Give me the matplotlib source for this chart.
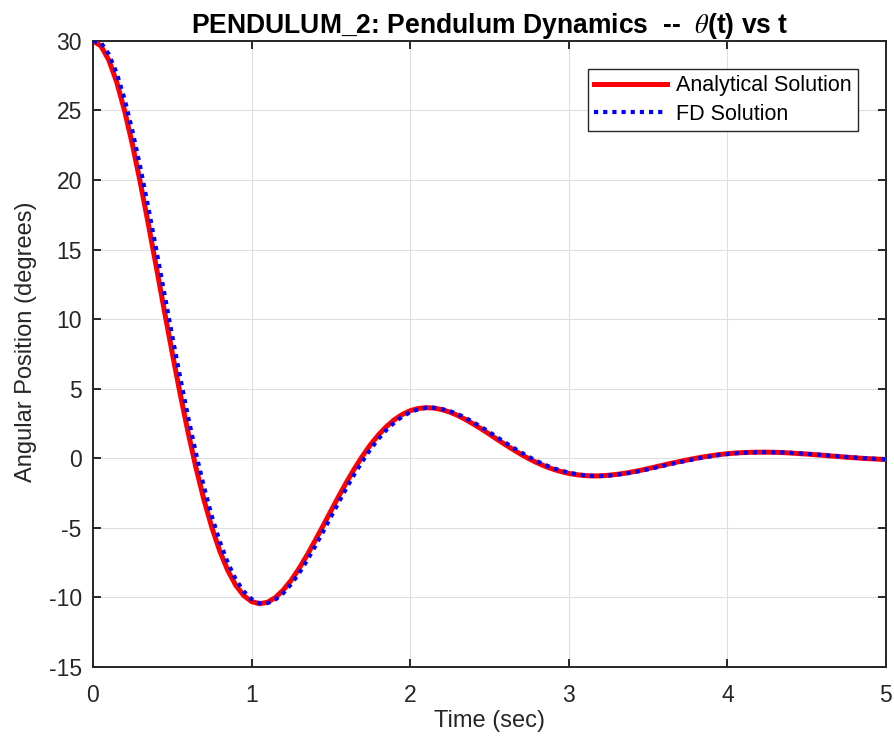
import matplotlib
matplotlib.use("Agg")
import matplotlib.pyplot as plt

plt.rcParams['font.family'] = ['Liberation Sans', 'DejaVu Sans']
plt.rcParams['mathtext.fontset'] = 'stix'
plt.rcParams['axes.unicode_minus'] = False

# time grid (sec) and angles (degrees)
t = [0.00, 0.05, 0.10, 0.15, 0.20, 0.25, 0.30, 0.35, 0.40, 0.45,
     0.50, 0.55, 0.60, 0.65, 0.70, 0.75, 0.80, 0.85, 0.90, 0.95,
     1.00, 1.05, 1.10, 1.15, 1.20, 1.25, 1.30, 1.35, 1.40, 1.45,
     1.50, 1.55, 1.60, 1.65, 1.70, 1.75, 1.80, 1.85, 1.90, 1.95,
     2.00, 2.05, 2.10, 2.15, 2.20, 2.25, 2.30, 2.35, 2.40, 2.45,
     2.50, 2.55, 2.60, 2.65, 2.70, 2.75, 2.80, 2.85, 2.90, 2.95,
     3.00, 3.05, 3.10, 3.15, 3.20, 3.25, 3.30, 3.35, 3.40, 3.45,
     3.50, 3.55, 3.60, 3.65, 3.70, 3.75, 3.80, 3.85, 3.90, 3.95,
     4.00, 4.05, 4.10, 4.15, 4.20, 4.25, 4.30, 4.35, 4.40, 4.45,
     4.50, 4.55, 4.60, 4.65, 4.70, 4.75, 4.80, 4.85, 4.90, 4.95,
     5.00]

theta_analytical = [
    30.00, 29.64, 28.62, 27.03, 24.95, 22.49, 19.73, 16.78, 13.71, 10.61,
    7.56, 4.62, 1.85, -0.70, -2.99, -4.99, -6.68, -8.06, -9.12, -9.86,
    -10.30, -10.45, -10.35, -10.01, -9.47, -8.76, -7.91, -6.96, -5.93, -4.87,
    -3.79, -2.72, -1.69, -0.72, 0.17, 0.98, 1.68, 2.28, 2.77, 3.15,
    3.42, 3.58, 3.64, 3.61, 3.50, 3.32, 3.08, 2.78, 2.45, 2.10,
    1.73, 1.35, 0.98, 0.62, 0.28, -0.04, -0.32, -0.57, -0.78, -0.95,
    -1.09, -1.18, -1.24, -1.27, -1.26, -1.22, -1.16, -1.08, -0.98, -0.87,
    -0.74, -0.61, -0.48, -0.35, -0.23, -0.11, 0.00, 0.10, 0.19, 0.27,
    0.33, 0.38, 0.41, 0.43, 0.44, 0.44, 0.43, 0.41, 0.38, 0.34,
    0.31, 0.26, 0.22, 0.17, 0.13, 0.08, 0.04, 0.00, -0.03, -0.06,
    -0.09]

theta_fd = [
    30.00, 29.88, 29.03, 27.67, 25.78, 23.47, 20.83, 17.96, 14.94, 11.85,
    8.78, 5.80, 2.96, 0.32, -2.07, -4.19, -6.00, -7.51, -8.70, -9.56,
    -10.12, -10.42, -10.41, -10.15, -9.69, -9.04, -8.25, -7.34, -6.34, -5.29,
    -4.22, -3.15, -2.10, -1.11, -0.19, 0.66, 1.40, 2.04, 2.57, 3.00,
    3.31, 3.52, 3.62, 3.63, 3.54, 3.39, 3.18, 2.90, 2.58, 2.24,
    1.88, 1.50, 1.13, 0.76, 0.42, 0.09, -0.21, -0.47, -0.70, -0.88,
    -1.03, -1.14, -1.22, -1.26, -1.27, -1.24, -1.18, -1.11, -1.02, -0.91,
    -0.79, -0.66, -0.53, -0.40, -0.28, -0.16, -0.04, 0.06, 0.15, 0.24,
    0.31, 0.36, 0.40, 0.42, 0.44, 0.44, 0.43, 0.42, 0.39, 0.36,
    0.32, 0.28, 0.24, 0.19, 0.15, 0.10, 0.06, 0.02, -0.02, -0.05,
    -0.08]

x_ticks = [0, 1, 2, 3, 4, 5]
y_ticks = [-15, -10, -5, 0, 5, 10, 15, 20, 25, 30]

AX_COLOR = '#262626'

fig = plt.figure(figsize=(8.94, 7.44), dpi=100)
ax = fig.add_axes([0.104, 0.1035, 0.887, 0.8415])

ax.plot(t, theta_analytical, color='red', lw=3.6, label='Analytical Solution', zorder=3)
ax.plot(t, theta_fd, color='blue', lw=3.0, dashes=(1.0, 1.2),
        label='FD Solution', zorder=4)

ax.set_xlim(0, 5)
ax.set_ylim(-15, 30)
ax.set_xticks(x_ticks)
ax.set_yticks(y_ticks)

ax.grid(True, color='#dfdfdf', lw=0.8)
ax.set_axisbelow(True)
for sp in ax.spines.values():
    sp.set_color(AX_COLOR)
    sp.set_linewidth(1.4)
ax.tick_params(direction='in', length=6, width=1.4, color=AX_COLOR,
               labelcolor=AX_COLOR, labelsize=16.5, top=True, right=True)
ax.tick_params(axis='x', pad=12.5)
ax.tick_params(axis='y', pad=8)

ax.set_xlabel('Time (sec)', fontsize=17, color=AX_COLOR, labelpad=2)
ax.set_ylabel('Angular Position (degrees)', fontsize=17, color=AX_COLOR)
ax.yaxis.set_label_coords(-0.071, 0.519)
ax.set_title(r'PENDULUM_2: Pendulum Dynamics  --  $\theta$(t) vs t',
             fontsize=19.1, fontweight='bold', pad=6)

leg = ax.legend(loc='upper right', fontsize=15.5, handlelength=3.4,
                fancybox=False, framealpha=1, edgecolor=AX_COLOR,
                borderpad=0.3, labelspacing=0.35, handletextpad=0.4,
                borderaxespad=1.3)
leg.get_frame().set_linewidth(1.0)

fig.savefig('out.png', dpi=100)
plt.close(fig)
